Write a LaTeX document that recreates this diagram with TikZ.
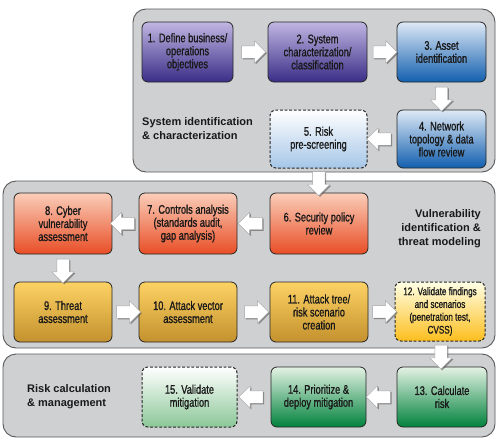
\documentclass[tikz,border=0pt]{standalone}
\usepackage{fontspec}
\setmainfont{Liberation Sans}
\newfontfamily\boxfont[FakeStretch=0.74,FakeBold=1]{Liberation Sans}
\newfontfamily\smallboxfont[FakeStretch=0.74,FakeBold=1]{Liberation Sans}
\usetikzlibrary{shapes.arrows,shadows,calc}
\definecolor{panelgray}{RGB}{207,208,210}
\definecolor{purT}{RGB}{192,182,226}
\definecolor{purM}{RGB}{110,95,175}
\definecolor{purB}{RGB}{58,45,135}
\definecolor{bluT}{RGB}{222,233,246}
\definecolor{bluM}{RGB}{80,145,210}
\definecolor{bluB}{RGB}{18,95,175}
\definecolor{redT}{RGB}{250,205,185}
\definecolor{redM}{RGB}{240,120,80}
\definecolor{redB}{RGB}{232,78,38}
\definecolor{yelT}{RGB}{253,210,100}
\definecolor{yelM}{RGB}{252,190,30}
\definecolor{yelB}{RGB}{195,145,45}
\definecolor{grnT}{RGB}{228,242,228}
\definecolor{grnM}{RGB}{80,170,100}
\definecolor{grnB}{RGB}{0,130,60}
\begin{document}
\begin{tikzpicture}[x=1pt,y=-1pt,
  panel/.style={draw=black!65, line width=0.9pt, fill=panelgray, rounded corners=13pt},
  box/.style={draw=black!85, line width=0.8pt, rounded corners=6pt, align=center,
    font=\boxfont\fontsize{12.5}{13}\selectfont, text=black!90, inner sep=1pt},
  dbox/.style={box, line width=1pt, dash pattern=on 2.8pt off 1.8pt},
  purp/.style={box, top color=purT, middle color=purM, bottom color=purB},
  blu/.style={box, top color=bluT, middle color=bluM, bottom color=bluB},
  red/.style={box, top color=redT, middle color=redM, bottom color=redB},
  yel/.style={box, top color=yelT, middle color=yelM, bottom color=yelB},
  grn/.style={box, top color=grnT, middle color=grnM, bottom color=grnB},
  lab/.style={font=\bfseries\fontsize{11}{14}\selectfont, text=black!90, inner sep=0pt},
  barrow/.style={single arrow, draw=black!35, line width=0.4pt, fill=white,
    minimum height=24pt, minimum width=22pt, inner sep=6pt, single arrow head extend=5pt,
    drop shadow={shadow xshift=1.2pt, shadow yshift=-1.2pt, opacity=0.55, fill=black!70}},
  rarr/.style={barrow},
  larr/.style={barrow, shape border rotate=180},
  darr/.style={barrow, shape border rotate=270}
]
\useasboundingbox (0,0) rectangle (500,447);
% panels
\path[panel] (133,9) rectangle (495,172);
\path[panel] (3,181) rectangle (495,348);
\path[panel] (3,354) rectangle (495,437);
% labels
\node[lab, anchor=west, align=left] (l1) at (142,129) {System identification\\\& characterization};
\node[lab, anchor=east, align=right] (l2) at (481,229) {Vulnerability\\identification \&\\threat modeling};
\node[lab, anchor=west, align=left] (l3) at (27,397) {Risk calculation\\\& management};
% boxes
\node[purp, minimum width=91pt, minimum height=60pt] (b1) at (187.5,52) {1. Define business/\\operations\\objectives};
\node[purp, minimum width=99pt, minimum height=60pt] (b2) at (317.5,52) {2. System\\characterization/\\classification};
\node[blu, minimum width=89pt, minimum height=60pt] (b3) at (441.5,52) {3. Asset\\identification};
\node[blu, minimum width=89pt, minimum height=58pt] (b4) at (441.5,139) {4. Network\\topology \& data\\flow review};
\node[dbox, top color=white, bottom color=bluT!60!bluM, minimum width=97pt, minimum height=58pt] (b5) at (318.5,139) {5. Risk\\pre-screening};
\node[red, minimum width=98pt, minimum height=61pt] (b6) at (319,223.5) {6. Security policy\\review};
\node[red, minimum width=98pt, minimum height=61pt] (b7) at (188,223.5) {7. Controls analysis\\(standards audit,\\gap analysis)};
\node[red, minimum width=98pt, minimum height=61pt] (b8) at (63,223.5) {8. Cyber\\vulnerability\\assessment};
\node[yel, minimum width=98pt, minimum height=60pt] (b9) at (63,312) {9. Threat\\assessment};
\node[yel, minimum width=98pt, minimum height=60pt] (b10) at (188,312) {10. Attack vector\\assessment};
\node[yel, minimum width=98pt, minimum height=60pt] (b11) at (319,312) {11. Attack tree/\\risk scenario\\creation};
\node[dbox, top color=white!90!yellow, middle color=yellow!35, bottom color=yelM, minimum width=90pt, minimum height=59pt, font=\smallboxfont\fontsize{11}{12.8}\selectfont] (b12) at (440,311.5) {12. Validate findings\\and scenarios\\(penetration test,\\CVSS)};
\node[grn, minimum width=90pt, minimum height=60pt] (b13) at (442,397) {13. Calculate\\risk};
\node[grn, minimum width=95pt, minimum height=60pt] (b14) at (318.5,397) {14. Prioritize \&\\deploy mitigation};
\node[dbox, top color=white, bottom color=grnT!40!grnM, minimum width=95pt, minimum height=60pt] (b15) at (189.5,397) {15. Validate\\mitigation};
% arrows
\node[rarr] (a12) at ($(b1.east)!0.5!(b2.west)$) {};
\node[rarr] (a23) at ($(b2.east)!0.5!(b3.west)$) {};
\node[darr] (a34) at ($(b3.south)!0.5!(b4.north)$) {};
\node[larr] (a45) at ($(b4.west)!0.5!(b5.east)$) {};
\node[darr] (a56) at ($(b5.south)!0.5!(b6.north)$) {};
\node[larr] (a67) at ($(b6.west)!0.5!(b7.east)$) {};
\node[larr] (a78) at ($(b7.west)!0.5!(b8.east)$) {};
\node[darr] (a89) at ($(b8.south)!0.5!(b9.north)$) {};
\node[rarr] (a910) at ($(b9.east)!0.5!(b10.west)$) {};
\node[rarr] (a1011) at ($(b10.east)!0.5!(b11.west)$) {};
\node[rarr] (a1112) at ($(b11.east)!0.5!(b12.west)$) {};
\node[darr] (a1213) at ($(b12.south)!0.5!(b13.north)$) {};
\node[larr] (a1314) at ($(b13.west)!0.5!(b14.east)$) {};
\node[larr] (a1415) at ($(b14.west)!0.5!(b15.east)$) {};
\end{tikzpicture}
\end{document}
